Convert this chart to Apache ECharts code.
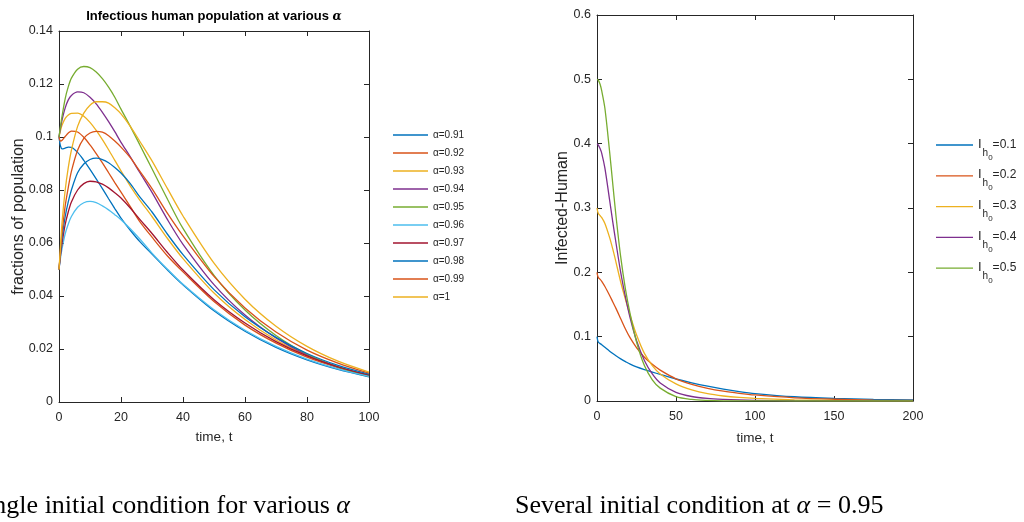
<!DOCTYPE html>
<html>
<head>
<meta charset="utf-8">
<script src="https://cdn.jsdelivr.net/npm/echarts@6/dist/echarts.min.js"></script>
<style>
  html, body { margin: 0; padding: 0; background: #fff; }
  #c { width: 1024px; height: 522px; }
</style>
</head>
<body>
<div id="c"></div>
<script>
// ---- Left panel: infectious human fraction for several fractional orders ----
const tLeft = [0, 0.5, 1, 2, 3, 4, 6, 8, 10, 12, 14, 16, 18, 20, 23, 26, 30, 35, 40, 50, 60, 70, 80, 90, 100];

const a091 = [0.1, 0.0965, 0.0955, 0.0958, 0.0962, 0.0961, 0.0942, 0.0912, 0.0878, 0.0842, 0.0805, 0.0767, 0.0730, 0.0694, 0.0648, 0.0606, 0.0558, 0.0498, 0.0442, 0.0344, 0.0267, 0.0206, 0.0159, 0.0123, 0.0095];
const a092 = [0.1, 0.0985, 0.0988, 0.1002, 0.1015, 0.1022, 0.1019, 0.0999, 0.0970, 0.0937, 0.0902, 0.0865, 0.0828, 0.0792, 0.0737, 0.0682, 0.0622, 0.0551, 0.0491, 0.0379, 0.0290, 0.0222, 0.0169, 0.0130, 0.0100];
const a093 = [0.1, 0.1025, 0.1045, 0.1070, 0.1083, 0.1089, 0.1090, 0.1078, 0.1055, 0.1025, 0.0990, 0.0952, 0.0912, 0.0872, 0.0815, 0.0763, 0.0700, 0.0617, 0.0541, 0.0411, 0.0311, 0.0234, 0.0176, 0.0133, 0.0100];
const a094 = [0.1, 0.1035, 0.1065, 0.1110, 0.1140, 0.1157, 0.1170, 0.1167, 0.1150, 0.1125, 0.1093, 0.1058, 0.1020, 0.0980, 0.0925, 0.0867, 0.0791, 0.0688, 0.0595, 0.0443, 0.0328, 0.0242, 0.0178, 0.0132, 0.0099];
const a095 = [0.1, 0.1042, 0.1080, 0.1145, 0.1190, 0.1222, 0.1256, 0.1266, 0.1262, 0.1245, 0.1220, 0.1188, 0.1150, 0.1105, 0.1040, 0.0972, 0.0880, 0.0765, 0.0655, 0.0478, 0.0347, 0.0251, 0.0181, 0.0132, 0.0097];
const a096 = [0.05, 0.0545, 0.0580, 0.0635, 0.0672, 0.0700, 0.0735, 0.0752, 0.0757, 0.0752, 0.0740, 0.0725, 0.0707, 0.0688, 0.0654, 0.0616, 0.0562, 0.0501, 0.0444, 0.0348, 0.0271, 0.0210, 0.0162, 0.0125, 0.0097];
const a097 = [0.05, 0.0555, 0.0600, 0.0670, 0.0718, 0.0755, 0.0800, 0.0824, 0.0833, 0.0831, 0.0822, 0.0808, 0.0790, 0.0770, 0.0732, 0.0690, 0.0636, 0.0564, 0.0498, 0.0386, 0.0298, 0.0228, 0.0174, 0.0133, 0.0102];
const a098 = [0.05, 0.0565, 0.0620, 0.0700, 0.0756, 0.0800, 0.0865, 0.0898, 0.0915, 0.0920, 0.0915, 0.0903, 0.0885, 0.0864, 0.0824, 0.0775, 0.0717, 0.0633, 0.0556, 0.0424, 0.0322, 0.0244, 0.0183, 0.0138, 0.0105];
const a099 = [0.05, 0.0575, 0.0640, 0.0740, 0.0810, 0.0870, 0.0950, 0.0995, 0.1015, 0.1021, 0.1018, 0.1005, 0.0985, 0.0962, 0.0922, 0.0872, 0.0805, 0.0712, 0.0627, 0.0474, 0.0355, 0.0264, 0.0196, 0.0147, 0.0109];
const a100 = [0.05, 0.0590, 0.0680, 0.0800, 0.0885, 0.0950, 0.1040, 0.1090, 0.1120, 0.1133, 0.1133, 0.1128, 0.1110, 0.1087, 0.1040, 0.0985, 0.0910, 0.0805, 0.0702, 0.0524, 0.0388, 0.0286, 0.0210, 0.0154, 0.0113];

const alphaLabels = ['0.91', '0.92', '0.93', '0.94', '0.95', '0.96', '0.97', '0.98', '0.99', '1'];
const leftValues = [a091, a092, a093, a094, a095, a096, a097, a098, a099, a100];

// ---- Right panel: infected humans for several initial values at alpha = 0.95 ----
const tRight = [0, 0.5, 1, 2, 3, 5, 8, 10, 12, 15, 18, 21, 25, 30, 35, 40, 50, 60, 70, 80, 90, 100, 125, 150, 175, 200];

const ih01 = [0.1, 0.0935, 0.0912, 0.0892, 0.0875, 0.0835, 0.0775, 0.0738, 0.0703, 0.0655, 0.0612, 0.0572, 0.0530, 0.0488, 0.0450, 0.0413, 0.0342, 0.0282, 0.0230, 0.0185, 0.0147, 0.0116, 0.0066, 0.0040, 0.0025, 0.0016];
const ih02 = [0.2, 0.194, 0.1915, 0.189, 0.186, 0.178, 0.164, 0.154, 0.144, 0.128, 0.112, 0.098, 0.083, 0.068, 0.057, 0.048, 0.0345, 0.0260, 0.0198, 0.0153, 0.0120, 0.0094, 0.0050, 0.0027, 0.0014, 0.0008];
const ih03 = [0.3, 0.294, 0.291, 0.288, 0.285, 0.276, 0.254, 0.236, 0.216, 0.185, 0.158, 0.133, 0.103, 0.074, 0.055, 0.042, 0.0265, 0.0172, 0.0113, 0.0078, 0.0055, 0.0040, 0.0018, 0.0008, 0.0004, 0.0002];
const ih04 = [0.4, 0.399, 0.397, 0.392, 0.385, 0.362, 0.312, 0.278, 0.246, 0.200, 0.162, 0.129, 0.094, 0.063, 0.042, 0.028, 0.0135, 0.0070, 0.0040, 0.0025, 0.0016, 0.0011, 0.0004, 0.0002, 0.0001, 0.0001];
const ih05 = [0.5, 0.4995, 0.498, 0.492, 0.482, 0.455, 0.387, 0.337, 0.288, 0.224, 0.174, 0.135, 0.092, 0.055, 0.033, 0.020, 0.0068, 0.0024, 0.0009, 0.0003, 0.0001, 0.0001, 0, 0, 0, 0];

const ih0Labels = ['0.1', '0.2', '0.3', '0.4', '0.5'];
const rightValues = [ih01, ih02, ih03, ih04, ih05];

// MATLAB default line colour order
const palette = ['#0072BD', '#D95319', '#EDB120', '#7E2F8E', '#77AC30', '#4DBEEE', '#A2142F'];

const SANS = "'Liberation Sans', Arial, sans-serif";
const SERIF = "'Liberation Serif', 'Times New Roman', serif";
const INK = '#262626';

function pairs(ts, vs) { return ts.map((t, i) => [t, vs[i]]); }

function boxAxis(gridIndex, position, min, max, interval, extra) {
  const base = {
    gridIndex, type: 'value', position, min, max, interval,
    nameMoveOverlap: false,
    axisLine: { show: true, onZero: false, lineStyle: { color: INK, width: 1 } },
    axisTick: { show: true, inside: true, length: 5, lineStyle: { color: INK, width: 1 } },
    axisLabel: { show: false },
    splitLine: { show: false }
  };
  return Object.assign(base, extra || {});
}

const tickLabel = (margin) => ({ show: true, margin, fontFamily: SANS, fontSize: 12.5, color: INK });
const nameStyleH = { fontFamily: SANS, fontSize: 13.5, color: INK };
const nameStyleV = { fontFamily: SANS, fontSize: 16, color: INK };

const leftNames = alphaLabels.map(a => 'α=' + a);
const rightNames = ih0Labels.map(v => 'Ih0=' + v);

const series = [];
leftValues.forEach((vals, i) => {
  series.push({
    name: leftNames[i], type: 'line', xAxisIndex: 0, yAxisIndex: 0,
    data: pairs(tLeft, vals), smooth: 0.3, symbol: 'none',
    lineStyle: { width: 1.3, color: palette[i % palette.length] },
    itemStyle: { color: palette[i % palette.length] }
  });
});
rightValues.forEach((vals, i) => {
  series.push({
    name: rightNames[i], type: 'line', xAxisIndex: 2, yAxisIndex: 2,
    data: pairs(tRight, vals), smooth: 0.3, symbol: 'none',
    lineStyle: { width: 1.3, color: palette[i] },
    itemStyle: { color: palette[i] }
  });
});

const option = {
  animation: false,
  backgroundColor: '#fff',
  title: {
    text: 'Infectious human population at various {a|α}',
    left: 214, top: 10, textAlign: 'center', padding: 0,
    textStyle: {
      fontFamily: SANS, fontWeight: 'bold', fontSize: 13, color: '#000',
      rich: { a: { fontFamily: "'DejaVu Serif', serif", fontStyle: 'italic', fontWeight: 'bold', fontSize: 12, color: '#000' } }
    }
  },
  grid: [
    { left: 59, top: 31, width: 310, height: 371 },
    { left: 597, top: 15, width: 316, height: 386 }
  ],
  xAxis: [
    boxAxis(0, 'bottom', 0, 100, 20, {
      axisLabel: tickLabel(9), name: 'time, t', nameLocation: 'middle', nameGap: 28, nameTextStyle: nameStyleH
    }),
    boxAxis(0, 'top', 0, 100, 20),
    boxAxis(1, 'bottom', 0, 200, 50, {
      axisLabel: tickLabel(9), name: 'time, t', nameLocation: 'middle', nameGap: 30, nameTextStyle: nameStyleH
    }),
    boxAxis(1, 'top', 0, 200, 50)
  ],
  yAxis: [
    boxAxis(0, 'left', 0, 0.14, 0.02, {
      axisLabel: tickLabel(6), name: 'fractions of population', nameLocation: 'middle', nameGap: 32, nameTextStyle: nameStyleV
    }),
    boxAxis(0, 'right', 0, 0.14, 0.02),
    boxAxis(1, 'left', 0, 0.6, 0.1, {
      axisLabel: tickLabel(6), name: 'Infected-Human', nameLocation: 'middle', nameGap: 26, nameTextStyle: nameStyleV
    }),
    boxAxis(1, 'right', 0, 0.6, 0.1)
  ],
  legend: [
    {
      data: leftNames, orient: 'vertical', left: 393, top: 130, padding: 0,
      icon: 'rect', itemWidth: 35, itemHeight: 1.3, itemGap: 8,
      textStyle: { fontFamily: SANS, fontSize: 10, color: INK },
      selectedMode: false
    },
    {
      data: rightNames, orient: 'vertical', left: 936, top: 130, padding: 0,
      icon: 'rect', itemWidth: 37, itemHeight: 1.3, itemGap: -0.5,
      selectedMode: false,
      formatter: name => '{i|I}{h|h}{z|0}{v|' + name.slice(3) + '}',
      textStyle: {
        fontFamily: SANS, color: INK,
        rich: {
          i: { fontSize: 13, lineHeight: 13, verticalAlign: 'top', padding: [7.5, 1, 0, 0] },
          h: { fontSize: 10, lineHeight: 10, verticalAlign: 'top', padding: [17.8, 0, 0, 0] },
          z: { fontSize: 8, lineHeight: 30, verticalAlign: 'top', padding: [23.3, 0, 0, 0] },
          v: { fontSize: 12, lineHeight: 12, verticalAlign: 'top', padding: [8.3, 0, 0, 0] }
        }
      }
    }
  ],
  graphic: [
    {
      type: 'text', x: 350, y: 506, silent: true,
      style: {
        text: 'Single initial condition for various {a|α}',
        fontFamily: SERIF, fontSize: 26, fill: '#000',
        align: 'right', textAlign: 'right', verticalAlign: 'middle', textVerticalAlign: 'middle',
        rich: { a: { fontFamily: SERIF, fontSize: 26, fontStyle: 'italic', fill: '#000' } }
      }
    },
    {
      type: 'text', x: 515, y: 506, silent: true,
      style: {
        text: 'Several initial condition at {a|α} = 0.95',
        fontFamily: SERIF, fontSize: 26, fill: '#000',
        align: 'left', textAlign: 'left', verticalAlign: 'middle', textVerticalAlign: 'middle',
        rich: { a: { fontFamily: SERIF, fontSize: 26, fontStyle: 'italic', fill: '#000' } }
      }
    }
  ],
  series
};

const chart = echarts.init(document.getElementById('c'), null, { renderer: 'canvas' });
chart.setOption(option);
</script>
</body>
</html>
